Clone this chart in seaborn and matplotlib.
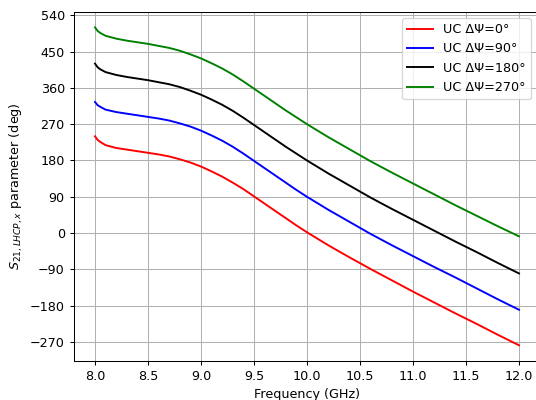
import numpy as np
import pandas as pd
import matplotlib
matplotlib.use("Agg")
import matplotlib.pyplot as plt
import seaborn as sns

freq = [8.0, 8.025, 8.05, 8.1, 8.2, 8.3, 8.4, 8.5, 8.6, 8.7, 8.8, 8.9, 9.0,
        9.1, 9.2, 9.3, 9.4, 9.5, 9.6, 9.7, 9.8, 9.9, 10.0,
        10.2, 10.4, 10.6, 10.8, 11.0, 11.2, 11.4, 11.6, 11.8, 12.0]
uc0 = [240, 231, 226, 218, 211, 207, 203, 199, 195, 190, 183, 175, 165,
       153, 140, 125, 109, 91, 73, 55, 37, 19, 2,
       -30, -60, -89, -117, -145, -172, -199, -225, -252, -278]
uc90 = [325, 317, 313, 306, 300, 296, 292, 288, 284, 279, 272, 264, 254,
        242, 229, 214, 197, 179, 161, 143, 125, 107, 90,
        58, 28, -2, -30, -57, -84, -110, -137, -164, -190]
uc180 = [420, 411, 406, 399, 392, 387, 383, 379, 374, 369, 362, 353, 343,
         331, 318, 303, 286, 268, 250, 232, 214, 197, 180,
         148, 118, 88, 60, 33, 6, -21, -47, -74, -100]
uc270 = [510, 501, 496, 489, 482, 477, 473, 469, 464, 459, 452, 443, 433,
         421, 408, 393, 376, 358, 340, 322, 304, 287, 270,
         238, 208, 178, 150, 123, 96, 69, 43, 17, -8]
labels = ["UC ΔΨ=0°", "UC ΔΨ=90°", "UC ΔΨ=180°", "UC ΔΨ=270°"]
colors = ["red", "blue", "black", "green"]
yticks = [-270, -180, -90, 0, 90, 180, 270, 360, 450, 540]
xticks = [8.0, 8.5, 9.0, 9.5, 10.0, 10.5, 11.0, 11.5, 12.0]

frames = []
for lab, vals in zip(labels, [uc0, uc90, uc180, uc270]):
    frames.append(pd.DataFrame({"f": freq, "v": vals, "s": lab}))
df = pd.concat(frames, ignore_index=True)

DPI = 92
fig = plt.figure(figsize=(536 / DPI, 400 / DPI), dpi=DPI)
ax = fig.add_axes([73.8 / 536, 0.0975, (540.2 - 73.8) / 536, 0.971 - 0.0975])
sns.lineplot(data=df, x="f", y="v", hue="s", palette=colors, hue_order=labels,
             linewidth=1.5, ax=ax, sort=False)
ax.set_xticks(xticks)
ax.set_yticks(yticks)
ax.set_xlim(7.8, 12.2)
ax.set_ylim(-317, 549)
ax.grid(True, color="#b0b0b0", linewidth=0.8)
ax.set_xlabel("Frequency (GHz)")
ax.set_ylabel(r"$S_{21,LHCP,x}$ parameter (deg)")
ax.legend(title=None, loc="upper right", bbox_to_anchor=(0.994, 1.0))
fig.savefig("out.png", dpi=DPI)
